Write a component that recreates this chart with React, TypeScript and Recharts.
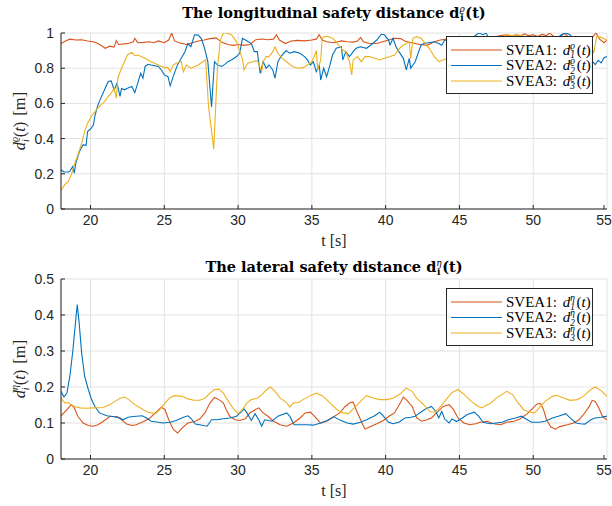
import { LineChart, Line, XAxis, YAxis, CartesianGrid, Legend } from 'recharts';

type Pt = [number, number];

const timeTicks = [20, 25, 30, 35, 40, 45, 50, 55];
const lonTicks = [0, 0.2, 0.4, 0.6, 0.8, 1];
const latTicks = [0, 0.1, 0.2, 0.3, 0.4, 0.5];
const seriesNames = ['SVEA1', 'SVEA2', 'SVEA3'];
const colors = ['#D95319', '#0072BD', '#EDB120'];

// longitudinal safety distance [t, d]
const lonSvea1: Pt[] = [
  [18, 0.94], [18.3, 0.955], [18.6, 0.965], [19, 0.96], [19.4, 0.962], [19.8, 0.955], [20.2, 0.95],
  [20.5, 0.94], [20.8, 0.925], [21, 0.913], [21.3, 0.925], [21.6, 0.92], [21.75, 0.957], [21.9, 0.935],
  [22.3, 0.938], [22.6, 0.942], [22.9, 0.95], [23, 0.97], [23.2, 0.945], [23.6, 0.947], [24, 0.95],
  [24.3, 0.945], [24.6, 0.955], [25, 0.945], [25.3, 0.96], [25.5, 1.0], [25.7, 0.955], [26, 0.945],
  [26.5, 0.935], [26.9, 0.945], [27.3, 0.955], [27.7, 0.96], [28.1, 0.968], [28.5, 0.972], [28.9, 0.947],
  [29.3, 0.935], [29.7, 0.93], [30, 0.935], [30.4, 0.93], [30.8, 0.935], [31.2, 0.962], [31.6, 0.966],
  [32, 0.962], [32.4, 0.965], [32.6, 0.99], [32.8, 0.96], [33.2, 0.94], [33.6, 0.955], [34, 0.958],
  [34.5, 0.955], [35, 0.96], [35.3, 0.965], [35.5, 0.99], [35.7, 0.96], [36, 0.95], [36.5, 0.945],
  [37, 0.955], [37.4, 0.95], [37.8, 0.948], [38.1, 0.955], [38.3, 0.975], [38.5, 0.95], [38.9, 0.94],
  [39.4, 0.94], [39.8, 0.95], [40.2, 0.96], [40.6, 0.97], [41, 0.968], [41.3, 0.955], [41.6, 0.947],
  [42, 0.94], [42.3, 0.935], [42.8, 0.93], [43.3, 0.95], [43.7, 0.96], [44.2, 0.965], [44.8, 0.96],
  [45.3, 0.968], [45.8, 0.97], [46.3, 0.975], [46.8, 0.97], [47.3, 0.975], [47.8, 0.985], [48.2, 0.99],
  [48.5, 0.98], [48.8, 0.99], [49.1, 0.982], [49.4, 0.995], [49.7, 0.985], [50, 0.99], [50.3, 0.98],
  [50.6, 0.992], [50.9, 0.985], [51.1, 1.0], [51.4, 0.98], [51.8, 0.975], [52.1, 1.0], [52.4, 0.975],
  [52.8, 0.97], [53.2, 0.965], [53.6, 0.97], [54, 0.975], [54.26, 1.0], [54.5, 0.965], [54.8, 0.945],
  [55, 0.96],
];

const lonSvea2: Pt[] = [
  [18, 0.223], [18.2, 0.21], [18.5, 0.21], [18.6, 0.215], [18.8, 0.242], [18.9, 0.204], [19, 0.26],
  [19.25, 0.327], [19.5, 0.365], [19.7, 0.36], [19.8, 0.44], [20.05, 0.46], [20.2, 0.478], [20.3, 0.53],
  [20.5, 0.59], [20.7, 0.63], [20.95, 0.677], [21.2, 0.724], [21.4, 0.728], [21.6, 0.677], [21.8, 0.715],
  [22, 0.64], [22.1, 0.685], [22.3, 0.677], [22.5, 0.686], [22.8, 0.696], [23, 0.66], [23.2, 0.715],
  [23.4, 0.771], [23.55, 0.743], [23.7, 0.81], [23.9, 0.822], [24.1, 0.818], [24.6, 0.81], [24.8, 0.79],
  [25, 0.762], [25.25, 0.752], [25.4, 0.7], [25.6, 0.752], [25.9, 0.82], [26.15, 0.856], [26.4, 0.894],
  [26.6, 0.94], [26.8, 0.922], [27.05, 0.99], [27.3, 0.988], [27.5, 0.97], [27.7, 0.922], [27.95, 0.837],
  [28.2, 0.58], [28.4, 0.837], [28.6, 0.818], [28.9, 0.81], [29.1, 0.822], [29.3, 0.837], [29.55, 0.847],
  [29.9, 0.866], [30.1, 0.885], [30.3, 0.97], [30.5, 0.96], [30.9, 0.94], [31.1, 0.894], [31.3, 0.894],
  [31.5, 0.77], [31.7, 0.837], [31.9, 0.8], [32.1, 0.818], [32.35, 0.79], [32.5, 0.743], [32.7, 0.837],
  [32.9, 0.866], [33.25, 0.9], [33.5, 0.885], [33.8, 0.894], [34.2, 0.885], [34.5, 0.866], [34.7, 0.847],
  [34.9, 0.818], [35.1, 0.837], [35.3, 0.78], [35.5, 0.818], [35.6, 0.733], [35.8, 0.8], [36, 0.752],
  [36.2, 0.81], [36.4, 0.875], [36.65, 0.913], [37, 0.922], [37.1, 0.847], [37.3, 0.894], [37.55, 0.866],
  [37.8, 0.894], [38, 0.913], [38.3, 0.922], [38.7, 0.913], [39, 0.932], [39.4, 0.96], [39.7, 0.993],
  [39.9, 0.99], [40.2, 0.96], [40.3, 0.932], [40.5, 0.97], [40.7, 0.922], [40.9, 0.894], [41.2, 0.856],
  [41.4, 0.79], [41.6, 0.856], [41.7, 0.8], [42, 0.837], [42.2, 0.885], [42.4, 0.932], [42.6, 0.94],
  [42.9, 0.945], [43.3, 0.95], [43.6, 0.94], [43.8, 0.93], [44, 0.96], [44.5, 0.95], [45, 0.94],
  [45.5, 0.96], [46, 0.98], [46.3, 1.0], [46.6, 0.99], [46.8, 1.0], [47, 0.97], [47.5, 0.94], [48, 0.92],
  [48.5, 0.9], [49, 0.88], [49.5, 0.87], [50, 0.9], [50.5, 0.93], [51, 0.95], [51.5, 0.96], [51.9, 0.99],
  [52.2, 1.0], [52.5, 0.99], [52.8, 0.95], [53.2, 0.9], [53.6, 0.86], [54, 0.84], [54.2, 0.82],
  [54.4, 0.845], [54.6, 0.83], [54.8, 0.86], [55, 0.866],
];

const lonSvea3: Pt[] = [
  [18, 0.104], [18.25, 0.138], [18.5, 0.157], [18.7, 0.195], [18.9, 0.25], [19.15, 0.308], [19.4, 0.374],
  [19.6, 0.44], [19.8, 0.488], [20.05, 0.525], [20.3, 0.554], [20.5, 0.573], [20.7, 0.59], [20.95, 0.61],
  [21.2, 0.64], [21.4, 0.658], [21.6, 0.686], [21.75, 0.63], [21.85, 0.743], [22.1, 0.8], [22.3, 0.837],
  [22.5, 0.875], [22.8, 0.89], [23, 0.871], [23.2, 0.875], [23.7, 0.856], [24.1, 0.837], [24.6, 0.818],
  [25, 0.803], [25.25, 0.803], [25.4, 0.78], [25.6, 0.818], [25.8, 0.828], [26.15, 0.837], [26.3, 0.78],
  [26.5, 0.818], [26.8, 0.8], [27.3, 0.818], [27.6, 0.837], [27.8, 0.847], [28, 0.58], [28.35, 0.34],
  [28.6, 0.8], [28.8, 0.96], [29, 1.0], [29.2, 1.0], [29.55, 0.99], [29.9, 0.95], [30.1, 0.9], [30.3, 0.85],
  [30.4, 0.79], [30.65, 0.828], [31, 0.837], [31.3, 0.843], [31.6, 0.78], [31.7, 0.837], [31.9, 0.866],
  [32.1, 0.866], [32.35, 0.894], [32.5, 0.922], [32.7, 0.885], [33, 0.856], [33.4, 0.828], [33.7, 0.81],
  [34.05, 0.8], [34.4, 0.803], [34.7, 0.818], [35, 0.837], [35.2, 0.875], [35.3, 0.9], [35.4, 0.79],
  [35.6, 0.847], [35.7, 0.97], [35.85, 0.98], [36.1, 0.98], [36.4, 0.97], [36.65, 0.95], [36.9, 0.922],
  [37.1, 0.903], [37.3, 0.894], [37.55, 0.837], [37.7, 0.762], [37.8, 0.847], [38.1, 0.866], [38.35, 0.837],
  [38.6, 0.866], [38.9, 0.866], [39.25, 0.856], [39.6, 0.847], [39.9, 0.856], [40.3, 0.866], [40.6, 0.875],
  [40.95, 0.913], [41.2, 0.932], [41.4, 0.94], [41.6, 0.95], [41.7, 0.856], [41.85, 0.97], [42.1, 0.979],
  [42.4, 0.97], [42.6, 0.95], [42.95, 0.913], [43.3, 0.866], [43.6, 0.837], [43.9, 0.847], [44.3, 0.86],
  [44.8, 0.88], [45.3, 0.9], [45.8, 0.93], [46.3, 0.95], [46.8, 0.96], [47.3, 0.97], [47.8, 0.975],
  [48.2, 0.99], [48.6, 0.985], [49, 0.99], [49.4, 0.98], [49.8, 0.96], [50.3, 0.95], [50.8, 0.94],
  [51.3, 0.95], [51.8, 0.96], [52.3, 0.955], [52.8, 0.96], [53.3, 0.965], [53.8, 0.97], [54.1, 0.885],
  [54.3, 0.98], [54.6, 0.975], [55, 0.96],
];

// lateral safety distance [t, d]
const latSvea1: Pt[] = [
  [18, 0.12], [18.4, 0.137], [18.7, 0.151], [18.9, 0.142], [19.15, 0.118], [19.5, 0.1], [19.85, 0.093],
  [20.2, 0.091], [20.5, 0.095], [20.85, 0.104], [21.3, 0.118], [21.8, 0.118], [22.1, 0.109], [22.45, 0.097],
  [22.8, 0.093], [23.1, 0.095], [23.6, 0.104], [24, 0.113], [24.5, 0.132], [24.8, 0.144], [25.05, 0.137],
  [25.3, 0.109], [25.6, 0.083], [25.9, 0.072], [26.2, 0.086], [26.6, 0.1], [27.1, 0.105], [27.4, 0.111],
  [27.75, 0.128], [28.1, 0.156], [28.4, 0.171], [28.7, 0.165], [29, 0.156], [29.2, 0.137], [29.45, 0.118],
  [29.8, 0.109], [30.1, 0.107], [30.5, 0.112], [30.8, 0.128], [31.15, 0.137], [31.4, 0.142], [31.7, 0.128],
  [32.05, 0.118], [32.4, 0.105], [32.85, 0.095], [33.3, 0.091], [33.75, 0.1], [34.2, 0.114], [34.55, 0.128],
  [34.9, 0.13], [35.2, 0.118], [35.6, 0.1], [36, 0.105], [36.5, 0.118], [36.9, 0.128], [37.25, 0.146],
  [37.6, 0.157], [37.8, 0.158], [38, 0.137], [38.4, 0.1], [38.6, 0.083], [38.9, 0.089], [39.4, 0.098],
  [39.85, 0.107], [40.2, 0.118], [40.6, 0.128], [41, 0.156], [41.2, 0.172], [41.4, 0.165], [41.8, 0.146],
  [42.1, 0.114], [42.45, 0.105], [42.8, 0.109], [43.1, 0.114], [43.5, 0.13], [43.9, 0.146], [44.3, 0.151],
  [44.6, 0.137], [44.9, 0.114], [45.3, 0.1], [45.7, 0.095], [46.1, 0.098], [46.4, 0.102], [46.9, 0.105],
  [47.3, 0.098], [47.8, 0.095], [48.2, 0.102], [48.7, 0.105], [49.1, 0.111], [49.6, 0.126], [50, 0.142],
  [50.25, 0.153], [50.5, 0.154], [50.7, 0.137], [50.9, 0.109], [51.2, 0.089], [51.5, 0.083], [51.8, 0.09],
  [52.3, 0.095], [52.75, 0.1], [53.1, 0.109], [53.4, 0.123], [53.8, 0.146], [54, 0.163], [54.2, 0.16],
  [54.4, 0.146], [54.7, 0.118], [55, 0.109],
];

const latSvea2: Pt[] = [
  [18, 0.188], [18.2, 0.172], [18.4, 0.183], [18.6, 0.23], [18.8, 0.3], [19, 0.387], [19.1, 0.429],
  [19.23, 0.378], [19.4, 0.294], [19.6, 0.23], [19.85, 0.193], [20.07, 0.165], [20.3, 0.146], [20.6, 0.128],
  [21.1, 0.12], [21.5, 0.118], [22, 0.114], [22.2, 0.109], [22.55, 0.116], [22.9, 0.118], [23.5, 0.12],
  [23.8, 0.114], [24.1, 0.105], [24.5, 0.103], [24.9, 0.1], [25.4, 0.102], [25.8, 0.107], [26.3, 0.116],
  [26.6, 0.12], [26.85, 0.111], [27.1, 0.097], [27.4, 0.095], [27.9, 0.091], [28.2, 0.109], [28.55, 0.109],
  [29, 0.112], [29.45, 0.114], [29.9, 0.119], [30.25, 0.132], [30.4, 0.139], [30.6, 0.128], [30.9, 0.107],
  [31.15, 0.126], [31.4, 0.109], [31.6, 0.091], [31.8, 0.109], [32.3, 0.105], [32.7, 0.119], [33.3, 0.128],
  [33.5, 0.119], [33.8, 0.095], [34.2, 0.095], [34.7, 0.095], [35.1, 0.094], [35.6, 0.1], [36, 0.106],
  [36.5, 0.117], [36.9, 0.108], [37.4, 0.1], [37.8, 0.097], [38.3, 0.102], [38.7, 0.109], [39.2, 0.119],
  [39.6, 0.13], [39.85, 0.119], [40.2, 0.102], [40.5, 0.098], [40.9, 0.102], [41.3, 0.114], [41.7, 0.116],
  [42, 0.119], [42.3, 0.128], [42.7, 0.139], [43.1, 0.146], [43.4, 0.132], [43.6, 0.114], [43.8, 0.132],
  [44, 0.111], [44.3, 0.1], [44.5, 0.111], [44.8, 0.104], [45.2, 0.114], [45.5, 0.123], [46, 0.13],
  [46.3, 0.119], [46.6, 0.102], [47.1, 0.098], [47.5, 0.1], [47.9, 0.102], [48.3, 0.109], [48.8, 0.114],
  [49.2, 0.119], [49.6, 0.109], [49.9, 0.102], [50.4, 0.102], [50.8, 0.105], [51.3, 0.114], [51.7, 0.119],
  [52.2, 0.126], [52.5, 0.114], [52.9, 0.1], [53.2, 0.098], [53.5, 0.097], [53.9, 0.109], [54.2, 0.114],
  [54.6, 0.116], [55, 0.119],
];

const latSvea3: Pt[] = [
  [18, 0.169], [18.25, 0.156], [18.5, 0.157], [18.7, 0.151], [18.9, 0.146], [19.3, 0.142], [19.7, 0.141],
  [20.2, 0.142], [20.85, 0.143], [21.3, 0.151], [21.65, 0.16], [22, 0.169], [22.3, 0.172], [22.6, 0.165],
  [23, 0.151], [23.5, 0.139], [23.9, 0.13], [24.4, 0.126], [24.7, 0.137], [25.05, 0.156], [25.4, 0.171],
  [25.7, 0.176], [26.2, 0.174], [26.6, 0.167], [27, 0.163], [27.4, 0.163], [27.75, 0.169], [28.1, 0.183],
  [28.4, 0.193], [28.7, 0.194], [29, 0.183], [29.35, 0.16], [29.7, 0.139], [30, 0.126], [30.25, 0.135],
  [30.6, 0.156], [30.9, 0.165], [31.3, 0.169], [31.6, 0.178], [31.95, 0.193], [32.2, 0.2], [32.5, 0.188],
  [32.85, 0.169], [33.3, 0.156], [33.5, 0.144], [33.75, 0.156], [34.1, 0.157], [34.4, 0.165], [34.9, 0.176],
  [35.3, 0.183], [35.7, 0.176], [36, 0.165], [36.35, 0.151], [36.7, 0.137], [37.1, 0.128], [37.5, 0.126],
  [37.8, 0.139], [38.3, 0.16], [38.7, 0.176], [39.2, 0.169], [39.6, 0.165], [40.1, 0.165], [40.5, 0.169],
  [41, 0.181], [41.4, 0.197], [41.8, 0.188], [42.1, 0.169], [42.6, 0.15], [43, 0.132], [43.3, 0.13],
  [43.6, 0.14], [44, 0.16], [44.5, 0.185], [44.9, 0.193], [45.3, 0.18], [45.8, 0.16], [46.2, 0.148],
  [46.5, 0.142], [47.1, 0.155], [47.5, 0.169], [48.2, 0.188], [48.6, 0.179], [48.9, 0.16], [49.35, 0.137],
  [49.8, 0.13], [50.1, 0.128], [50.5, 0.146], [50.8, 0.16], [51.3, 0.174], [51.6, 0.177], [52.1, 0.169],
  [52.5, 0.163], [53, 0.165], [53.4, 0.174], [53.9, 0.193], [54.2, 0.2], [54.6, 0.19], [55, 0.174],
];

const SANS = '"Liberation Sans", Arial, sans-serif';
const SERIF = '"Liberation Serif", "Times New Roman", serif';
const TITLE_SERIF = '"DejaVu Serif", "Liberation Serif", serif';
const AXIS = '#262626';
const GRID = '#e2e2e2';

const toRows = (pts: Pt[]) => pts.map(([t, v]) => ({ t, v }));

// d with stacked super/subscript followed by (t)
function mathD(sup: string, sub: string, fs: number, bold = false, lead = 0) {
  const small = fs * 0.62;
  const st = bold ? 'normal' : 'italic';
  return [
    <tspan key="d" fontStyle={st} dx={lead}>d</tspan>,
    <tspan key="sup" fontSize={small} fontStyle="italic" fontWeight="normal" dy={-fs * 0.4}>{sup}</tspan>,
    <tspan key="sub" fontSize={small} fontStyle={st} dx={-small * 0.52} dy={fs * 0.64}>{sub}</tspan>,
    <tspan key="l" dx={fs * 0.12} dy={-fs * 0.24}>(</tspan>,
    <tspan key="t" fontStyle={st}>t</tspan>,
    <tspan key="r">)</tspan>,
  ];
}

function XTick(props: any) {
  const { x, y, payload } = props;
  return (
    <g>
      <line x1={x} x2={x} y1={y} y2={y - 4} stroke={AXIS} />
      <text x={x} y={y + 16} textAnchor="middle" fontFamily={SANS} fontSize={14} fill={AXIS}>
        {payload.value}
      </text>
    </g>
  );
}

function YTick(props: any) {
  const { x, y, payload } = props;
  return (
    <g>
      <line x1={x + 7} x2={x + 11} y1={y} y2={y} stroke={AXIS} />
      <text x={x} y={y + 5} textAnchor="end" fontFamily={SANS} fontSize={14} fill={AXIS}>
        {payload.value}
      </text>
    </g>
  );
}

function makeYLabel(sym: string) {
  return (props: any) => {
    const vb = props.viewBox;
    const cx = vb.x + 24;
    const cy = vb.y + vb.height / 2;
    return (
      <text
        x={cx}
        y={cy}
        transform={`rotate(-90, ${cx}, ${cy})`}
        textAnchor="middle"
        fontFamily={SERIF}
        fontSize={16.5}
        fill={AXIS}
      >
        {mathD(sym, 'i', 16.5)}
        <tspan dx={6}>[m]</tspan>
      </text>
    );
  };
}

const xLabel = (props: any) => {
  const vb = props.viewBox;
  return (
    <text x={vb.x + vb.width / 2} y={vb.y + 37} textAnchor="middle" fontFamily={SERIF} fontSize={16} fill={AXIS}>
      t [s]
    </text>
  );
};

function LegendBox({ sym }: { sym: string }) {
  return (
    <svg width={147} height={58} style={{ display: 'block' }}>
      <rect x={0.5} y={0.5} width={146} height={57} fill="#fff" stroke={AXIS} />
      {seriesNames.map((name, i) => {
        const cy = 14 + i * 15.5;
        return (
          <g key={name}>
            <line x1={5} x2={56} y1={cy} y2={cy} stroke={colors[i]} strokeWidth={1.2} />
            <text x={60} y={cy + 4.5} fontFamily={SERIF} fontSize={15} fill="#000">
              <tspan>{name}:</tspan>
              {mathD(sym, String(i + 1), 15, false, 6)}
            </text>
          </g>
        );
      })}
    </svg>
  );
}

function Panel(props: {
  title: string;
  sym: string;
  series: Pt[][];
  yTicks: number[];
  top: number;
  bottom: number;
  titleY: number;
  legendTop: number;
}) {
  const { title, sym, series, yTicks, top, bottom, titleY, legendTop } = props;
  return (
    <LineChart width={612} height={253} margin={{ top, right: 5, bottom, left: 1 }}>
      <CartesianGrid stroke={GRID} strokeWidth={1} />
      <XAxis
        type="number"
        dataKey="t"
        domain={[18, 55]}
        ticks={timeTicks}
        allowDataOverflow
        height={30}
        tick={<XTick />}
        tickLine={false}
        tickSize={0}
        tickMargin={0}
        axisLine={{ stroke: AXIS }}
        label={{ content: xLabel }}
      />
      <YAxis
        type="number"
        domain={[0, yTicks[yTicks.length - 1]]}
        ticks={yTicks}
        allowDataOverflow
        width={60}
        tick={<YTick />}
        tickLine={false}
        tickSize={0}
        tickMargin={7}
        axisLine={{ stroke: AXIS }}
        label={{ content: makeYLabel(sym) }}
      />
      {series.map((pts, i) => (
        <Line
          key={seriesNames[i]}
          data={toRows(pts)}
          dataKey="v"
          name={seriesNames[i]}
          type="linear"
          stroke={colors[i]}
          strokeWidth={1.1}
          dot={false}
          activeDot={false}
          isAnimationActive={false}
        />
      ))}
      <Legend
        layout="vertical"
        align="center"
        verticalAlign="middle"
        wrapperStyle={{ left: 446, top: legendTop, width: 147, height: 58 }}
        content={() => <LegendBox sym={sym} />}
      />
      <text x={334} y={titleY} textAnchor="middle" fontFamily={TITLE_SERIF} fontSize={14.5} fontWeight="bold" fill="#000">
        {title}
        {mathD(sym, 'i', 14.5, true)}
      </text>
    </LineChart>
  );
}

export default function App() {
  return (
    <div style={{ position: 'absolute', left: 0, top: 0, width: 612, height: 506, background: '#fff' }}>
      <Panel
        title="The longitudinal safety distance "
        sym="ϱ"
        series={[lonSvea1, lonSvea2, lonSvea3]}
        yTicks={lonTicks}
        top={33}
        bottom={14}
        titleY={18}
        legendTop={36}
      />
      <Panel
        title="The lateral safety distance "
        sym="η"
        series={[latSvea1, latSvea2, latSvea3]}
        yTicks={latTicks}
        top={26}
        bottom={17}
        titleY={19}
        legendTop={35}
      />
    </div>
  );
}
